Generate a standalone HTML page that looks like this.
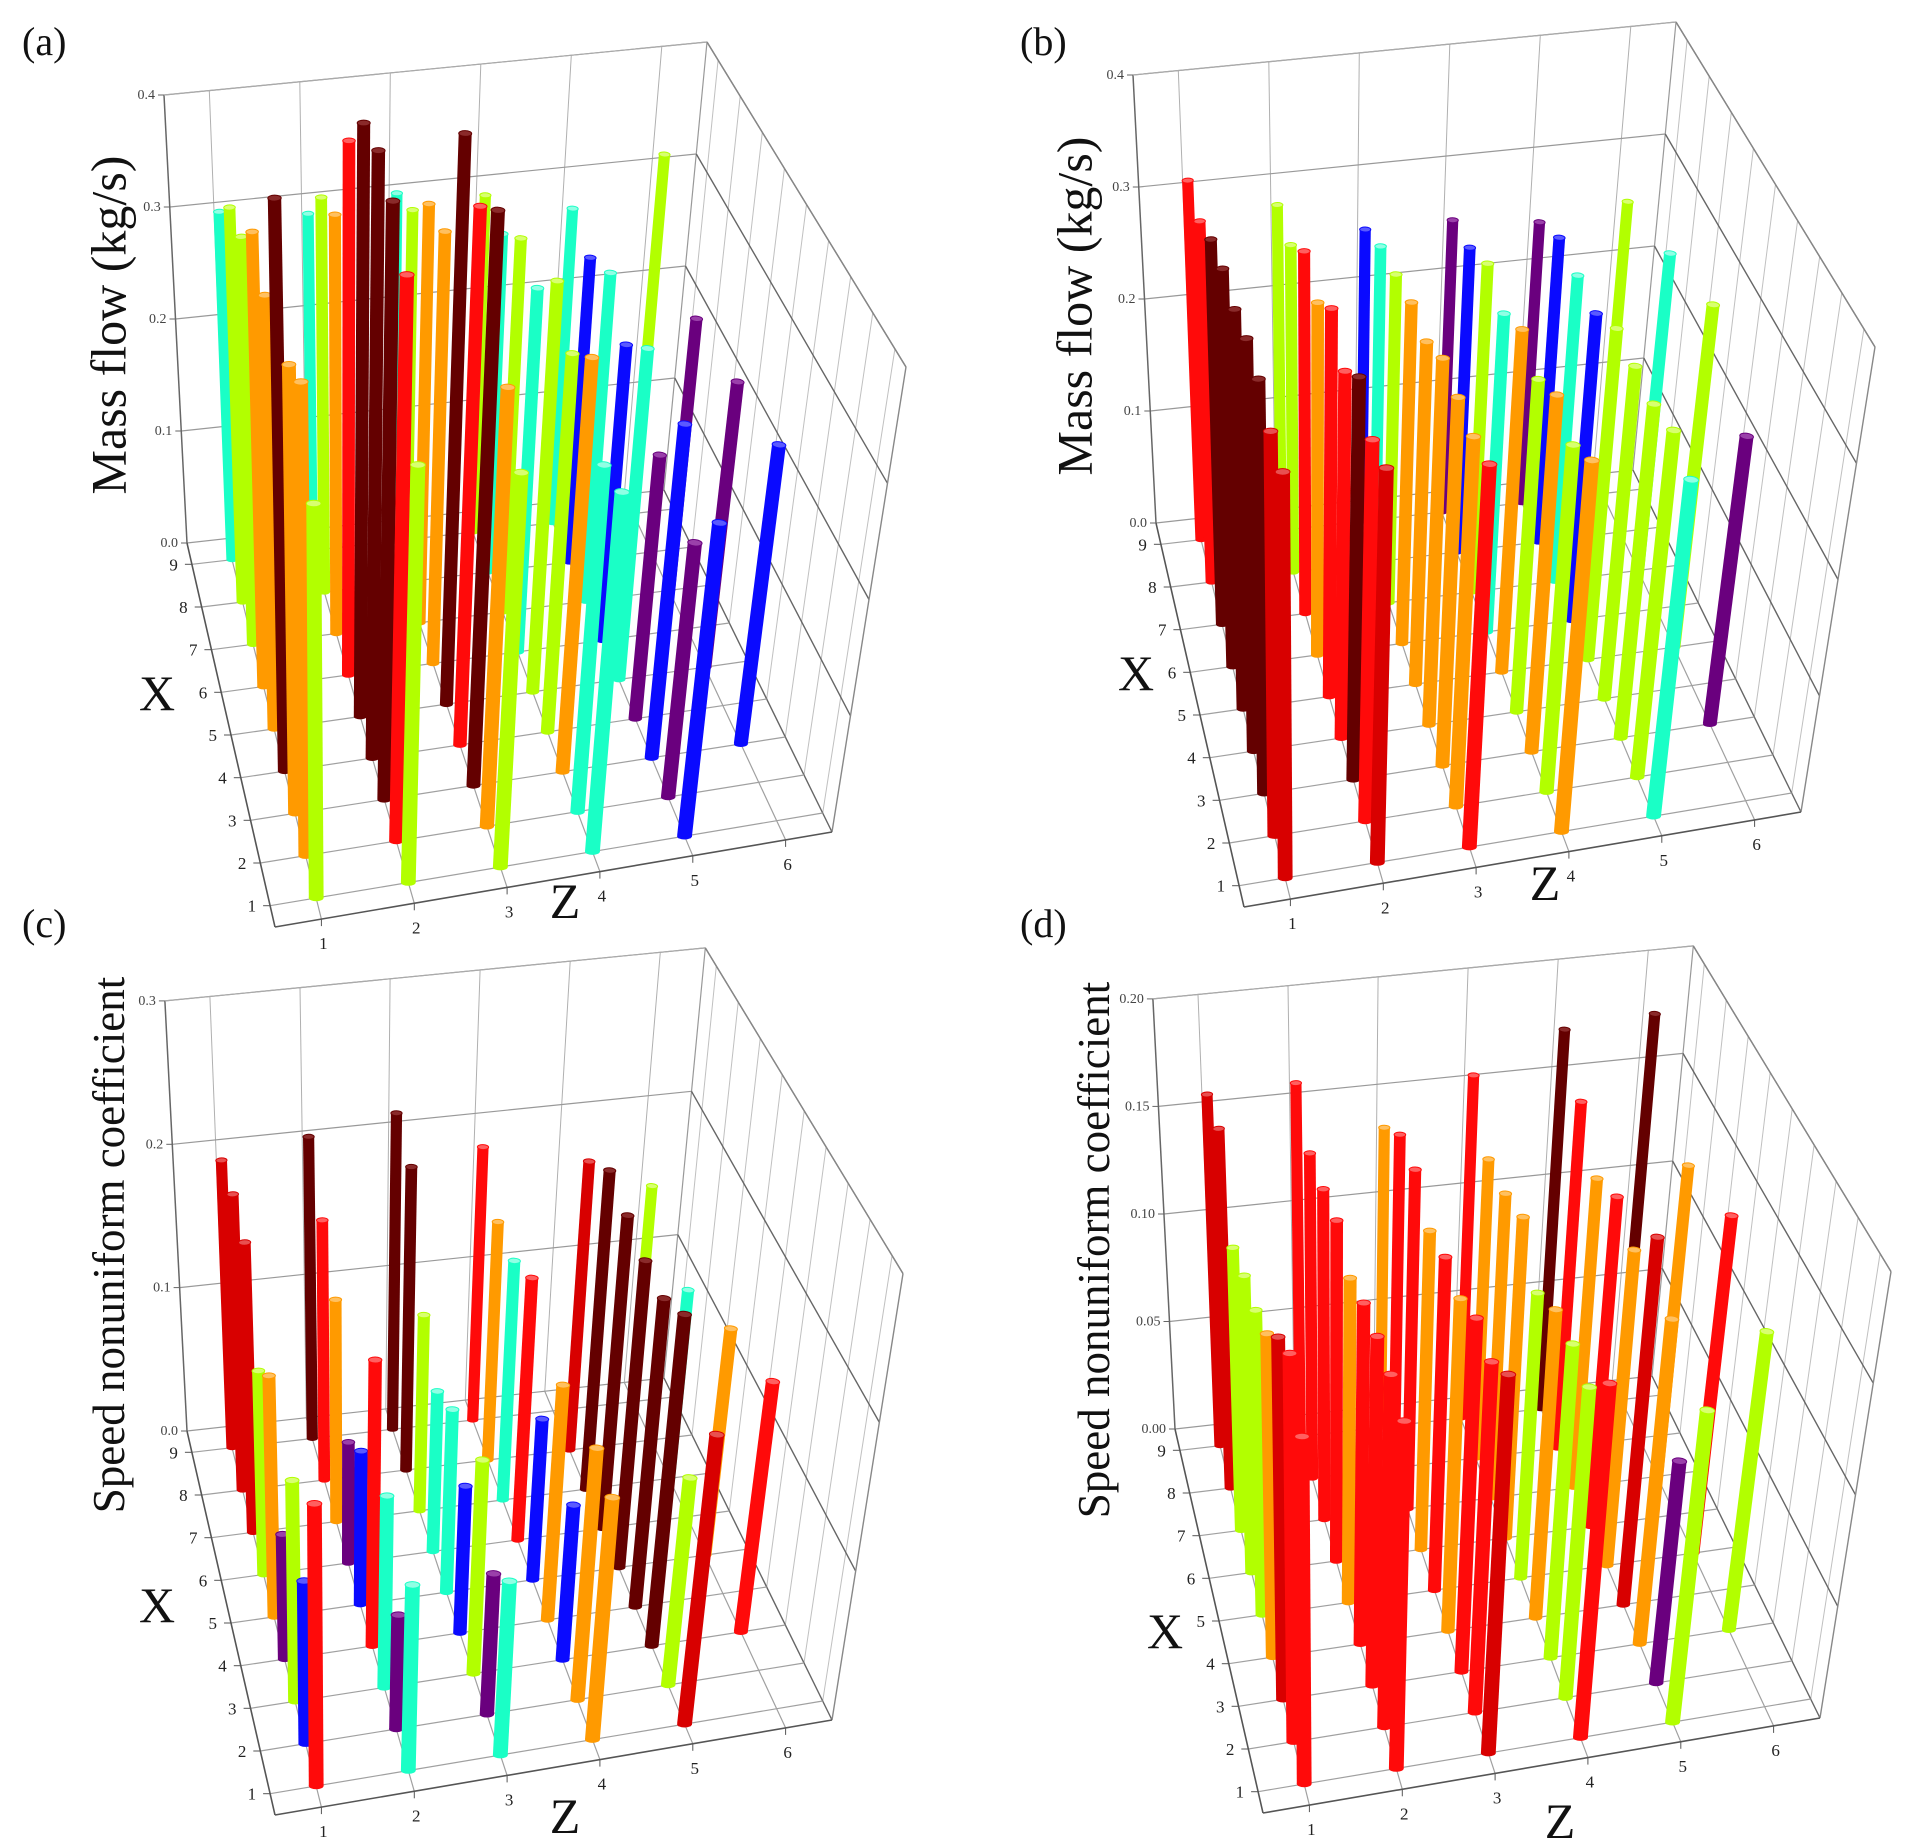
<!DOCTYPE html>
<html><head><meta charset="utf-8"><style>
html,body{margin:0;padding:0;background:#fff}
svg{display:block}
text{font-family:"Liberation Serif",serif}
</style></head><body>
<svg id="fig" width="1909" height="1848" viewBox="0 0 1909 1848" xmlns="http://www.w3.org/2000/svg">
<rect width="1909" height="1848" fill="#fff"/>
</svg>
<script>
// ---- data: values per Z column, X = 1..9 (0 = no bar) ----
const aZ1=[0.34,0.41,0.39,0.50,0.38,0.40,0.36,0.35,0.31], aC1="LOODOOLLC";
const aZ2=[0.36,0.49,0.52,0.53,0.52,0.47,0.37,0.35,0.30], aC2="LRDDDROLC";
const aZ3=[0.34,0.38,0.50,0.47,0.50,0.38,0.37,0.33,0.31], aC3="LODRDOOLC";
const aZ4=[0.31,0.30,0.36,0.33,0.36,0.32,0.33,0.30,0.30], aC4="CCOLLCLCL";
const aZ5=[0.27,0.22,0.29,0.23,0.29,0.26,0.29,0.27,0.28], aC5="BPBPCBCBC";
const aZ6=[0,0,0.26,0,0.25,0,0.24,0,0.32], aC6="--B-P-P-L";

const bZ1=[0.35,0.35,0.36,0.36,0.35,0.35,0.34,0.32,0.32], bC1="MMDDDDDRR";
const bZ2=[0.34,0.33,0.35,0.32,0.34,0.31,0.32,0.29,0.29], bC2="MRDRRORLL";
const bZ3=[0.33,0.32,0.32,0.32,0.30,0.30,0.29,0.28,0.26], bC3="ROOOOOLCB";
const bZ4=[0.32,0.30,0.31,0.29,0.30,0.28,0.29,0.27,0.26], bC4="OLOLOCLBP";
const bZ5=[0.29,0.30,0.29,0.29,0.29,0.27,0.27,0.27,0.25], bC5="CLLLLBCBP";
const bZ6=[0,0,0.25,0,0.30,0,0.28,0,0.26], bC6="--P-L-C-L";

const cZ1=[0.19,0.11,0.15,0.085,0.165,0.14,0.20,0.205,0.20], cC1="RBLPOLMMM";
const cZ2=[0.125,0.077,0.13,0.195,0.105,0.083,0.153,0.18,0.21], cC2="CPCRBPORD";
const cZ3=[0.117,0.095,0.145,0.10,0.125,0.11,0.135,0.21,0.22], cC3="CPLBCCLDD";
const cZ4=[0.163,0.17,0.105,0.16,0.11,0.18,0.165,0.165,0.19], cC4="OOBOBRCOR";
const cZ5=[0.195,0.14,0.225,0.21,0.21,0.215,0.22,0.20,0], cC5="MLDDDDDM-";
const cZ6=[0,0,0.17,0,0.155,0,0.13,0,0.15], cC6="--R-O-C-L";

const dZ1=[0.156,0.175,0.164,0.147,0.139,0.136,0.13,0.166,0.163], dC1="RRMOLLLMM";
const dZ2=[0.156,0.159,0.158,0.155,0.148,0.156,0.152,0.15,0.164], dC2="RRRRORRRR";
const dZ3=[0.17,0.158,0.16,0.151,0.152,0.146,0.156,0.154,0.139], dC3="MRRORORRO";
const dZ4=[0.159,0.14,0.142,0.14,0.13,0.147,0.14,0.138,0.159], dC4="RLLOLOOOR";
const dZ5=[0.14,0.10,0.147,0.167,0.144,0.151,0.142,0.16,0.176], dC5="LPOMORORD";
const dZ6=[0,0,0.135,0,0.154,0,0.143,0,0.179], dC6="--L-R-O-D";

const ticksAB=["0.0","0.1","0.2","0.3","0.4"], levelsAB=[0,0.1,0.2,0.3,0.4];
const ticksC=["0.0","0.1","0.2","0.3"], levelsC=[0,0.1,0.2,0.3];
const ticksD=["0.00","0.05","0.10","0.15","0.20"], levelsD=[0,0.05,0.1,0.15,0.2];
const xTicks=[1,2,3,4,5,6,7,8,9], zTicks=[1,2,3,4,5,6];

const COLORS={L:'#b2ff00',O:'#ff9a00',D:'#640000',R:'#ff0a0a',M:'#d80000',C:'#1affc6',B:'#0a0aff',P:'#6a007e'};
const CAPS={L:'#d8ff70',O:'#ffc060',D:'#8a2a2a',R:'#ff6060',M:'#e85050',C:'#90ffe4',B:'#5a5aff',P:'#9a40aa'};

const NS="http://www.w3.org/2000/svg";
const svg=document.getElementById('fig');
function mk(tag,attrs,parent){const e=document.createElementNS(NS,tag);for(const k in attrs)e.setAttribute(k,attrs[k]);(parent||svg).appendChild(e);return e;}

const base={fl:[275,927],fr:[832,832],bl:[187,543],br:[664,490],
            tfl:[266,462],tfr:[906,367],tbl:[164,95],tbr:[707,42]};

const panels=[
 {id:'a',dx:0,dy:0,hs:1,vmax:0.4,levels:levelsAB,ticks:ticksAB,cols:[aZ1,aZ2,aZ3,aZ4,aZ5,aZ6],cc:[aC1,aC2,aC3,aC4,aC5,aC6],
  title:'Mass flow (kg/s)',tx:108,ty:325,tfs:50,lab:[22,55],X:[157,710],Z:[565,918]},
 {id:'b',dx:969,dy:-20,hs:1,vmax:0.4,levels:levelsAB,ticks:ticksAB,cols:[bZ1,bZ2,bZ3,bZ4,bZ5,bZ6],cc:[bC1,bC2,bC3,bC4,bC5,bC6],
  title:'Mass flow (kg/s)',tx:1074,ty:306,tfs:50,lab:[1020,55],X:[1136,690],Z:[1545,900]},
 {id:'c',dx:0,dy:888,hs:0.96,vmax:0.3,levels:levelsC,ticks:ticksC,cols:[cZ1,cZ2,cZ3,cZ4,cZ5,cZ6],cc:[cC1,cC2,cC3,cC4,cC5,cC6],
  title:'Speed nonuniform coefficient',tx:108,ty:1245,tfs:45,lab:[22,937],X:[157,1622],Z:[565,1833]},
 {id:'d',dx:988,dy:886,hs:0.96,vmax:0.2,levels:levelsD,ticks:ticksD,cols:[dZ1,dZ2,dZ3,dZ4,dZ5,dZ6],cc:[dC1,dC2,dC3,dC4,dC5,dC6],
  title:'Speed nonuniform coefficient',tx:1093,ty:1250,tfs:45,lab:[1020,937],X:[1165,1648],Z:[1560,1838]}
];

function lerp(a,b,t){return [a[0]+(b[0]-a[0])*t,a[1]+(b[1]-a[1])*t];}
function bil(p,fl,fr,bl,br,u,w){const f=lerp(fl,fr,u),b=lerp(bl,br,u);const r=lerp(f,b,w);return [r[0]+p.dx,r[1]+p.dy];}
function proj(p,z,x,v){
  const u=(z-0.5)/6,w=(x-0.5)/9;
  const f=bil(p,base.fl,base.fr,base.bl,base.br,u,w);
  const t=bil(p,base.tfl,base.tfr,base.tbl,base.tbr,u,w);
  const s=v/p.vmax*p.hs;
  return [f[0]+(t[0]-f[0])*s,f[1]+(t[1]-f[1])*s];
}
function line(g,a,b,col,wd,name){const e=mk('line',{x1:a[0].toFixed(1),y1:a[1].toFixed(1),x2:b[0].toFixed(1),y2:b[1].toFixed(1),stroke:col,'stroke-width':wd},g);
  
  return e;}
function txt(g,x,y,s,fs,anchor,name,extra){const e=mk('text',Object.assign({x:x,y:y,'font-size':fs,'text-anchor':anchor,fill:'#222'},extra||{}),g);e.textContent=s;
  
  return e;}

panels.forEach(p=>{
  const g=mk('g',{});
  
  
  const top=p.vmax;
  for(let z=1;z<=6;z++) line(g,proj(p,z,9.5,0),proj(p,z,9.5,top),'#b0b0b0',1,'back-wall-gridline');
  p.levels.forEach(v=>line(g,proj(p,0.5,9.5,v),proj(p,6.5,9.5,v),'#999',1.2,'back-wall-level-line'));
  for(let x=1;x<=9;x++) line(g,proj(p,6.5,x,0),proj(p,6.5,x,top),'#c0c0c0',1,'right-wall-gridline');
  line(g,proj(p,6.5,9.5,0),proj(p,6.5,9.5,top),'#999',1.2,'right-wall-edge');
  p.levels.forEach(v=>line(g,proj(p,6.5,0.5,v),proj(p,6.5,9.5,v),'#666',1.4,'right-wall-level-line'));
  line(g,proj(p,6.5,0.5,0),proj(p,6.5,0.5,top),'#888',1.4,'front-right-edge');
  for(let x=1;x<=9;x++) line(g,proj(p,0.5,x,0),proj(p,6.5,x,0),'#a0a0a0',1.2,'floor-gridline-x');
  for(let z=1;z<=6;z++) line(g,proj(p,z,0.5,0),proj(p,z,9.5,0),'#a0a0a0',1.2,'floor-gridline-z');
  line(g,proj(p,0.5,0.5,0),proj(p,6.5,0.5,0),'#555',1.6,'z-axis-line');
  line(g,proj(p,0.5,0.5,0),proj(p,0.5,9.5,0),'#555',1.6,'x-axis-line');
  line(g,proj(p,0.5,9.5,0),proj(p,0.5,9.5,top),'#666',1.5,'value-axis-line');
  for(let xi=8;xi>=0;xi--){
    for(let zi=0;zi<6;zi++){
      const v=p.cols[zi][xi]; const c=p.cc[zi][xi];
      if(!v||c==='-') continue;
      const z=zi+1,x=xi+1;
      const b0=proj(p,z,x,0), b1=proj(p,z,x,v);
      const wd=15-4*((x-0.5)/9);
      const bar=mk('line',{x1:b0[0].toFixed(1),y1:b0[1].toFixed(1),x2:b1[0].toFixed(1),y2:b1[1].toFixed(1),stroke:COLORS[c],'stroke-width':wd.toFixed(1),'stroke-linecap':'butt'},g);
      
      
      const ang=Math.atan2(b1[0]-b0[0],b0[1]-b1[1])*180/Math.PI;
      const cap=mk('ellipse',{cx:b1[0].toFixed(1),cy:b1[1].toFixed(1),rx:(wd/2).toFixed(1),ry:(wd/4.5).toFixed(1),fill:CAPS[c],stroke:COLORS[c],'stroke-width':1,transform:'rotate('+ang.toFixed(1)+' '+b1[0].toFixed(1)+' '+b1[1].toFixed(1)+')'},g);
      
      
      const bot=mk('ellipse',{cx:b0[0].toFixed(1),cy:b0[1].toFixed(1),rx:(wd/2).toFixed(1),ry:(wd/4.5).toFixed(1),fill:COLORS[c]},g);
      
      
    }
  }
  line(g,proj(p,0.5,9.5,top),proj(p,6.5,9.5,top),'#aaa',1.2,'top-back-edge');
  line(g,proj(p,6.5,0.5,top),proj(p,6.5,9.5,top),'#888',1.2,'top-right-edge');
  p.levels.forEach((v,i)=>{const q=proj(p,0.5,9.5,v);
    line(g,q,[q[0]-6,q[1]],'#666',1,'value-tick');
    txt(g,q[0]-9,q[1]+4,p.ticks[i],14,'end','value-tick-label',{fill:'#444'});});
  xTicks.forEach(x=>{const q=proj(p,0.5,x,0);
    line(g,q,[q[0]-7,q[1]],'#555',1,'x-tick');
    txt(g,q[0]-14,q[1]+6,String(x),17,'end','x-tick-label');});
  zTicks.forEach(z=>{const q=proj(p,z,0.5,0);
    line(g,q,[q[0],q[1]+7],'#555',1,'z-tick');
    txt(g,q[0]+2,q[1]+30,String(z),17,'middle','z-tick-label');});
  txt(g,p.lab[0],p.lab[1],'('+p.id+')',40,'start','panel-label-'+p.id,{fill:'#111'});
  txt(g,p.tx,p.ty,p.title,p.tfs,'middle','y-axis-title',{fill:'#111',transform:'rotate(-90 '+p.tx+' '+p.ty+')',dy:'0.35em'});
  txt(g,p.X[0],p.X[1],'X',50,'middle','x-axis-title',{fill:'#111'});
  txt(g,p.Z[0],p.Z[1],'Z',50,'middle','z-axis-title',{fill:'#111'});
});
</script>
</body></html>
